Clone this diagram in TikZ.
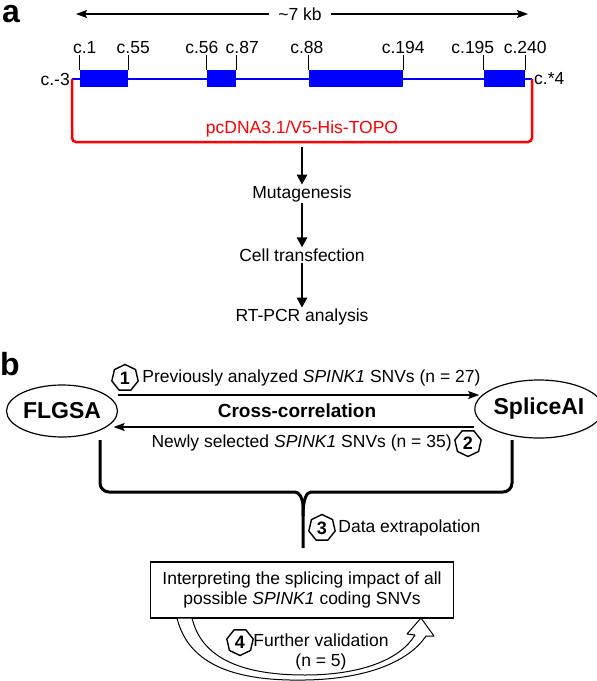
\documentclass[tikz,border=0pt]{standalone}
\usepackage{fontspec}
\setmainfont{Liberation Sans}
\usetikzlibrary{shapes.geometric, arrows.meta, positioning, calc}
\definecolor{exonblue}{HTML}{0000FF}
\definecolor{vecred}{HTML}{FF0000}

\begin{document}
\begin{tikzpicture}[x=1pt, y=-1pt,
    exon/.style={rectangle, fill=exonblue, inner sep=0pt, minimum height=17pt, minimum width=#1},
    cpos/.style={font=\fontsize{17.5}{20}\selectfont, inner sep=1pt, anchor=south},
    txt/.style={font=\fontsize{17.5}{20}\selectfont, inner sep=1pt},
    panel/.style={font=\fontsize{32}{32}\selectfont\bfseries, inner sep=0pt, anchor=base west},
    flowarrow/.style={line width=2.6pt, -{Triangle[length=10pt, width=10pt]}},
    thinarrow/.style={line width=1.5pt, -{Stealth[length=11pt, width=8pt, inset=2pt]}},
    tool/.style={ellipse, draw, line width=1.2pt, font=\fontsize{23}{26}\selectfont\bfseries, inner sep=0pt},
    stepmark/.style={regular polygon, regular polygon sides=7, draw, line width=1.4pt, inner sep=0pt, minimum size=27pt, font=\fontsize{18}{20}\selectfont\bfseries},
    brace/.style={line width=3pt, line join=round},
]
\useasboundingbox (0,0) rectangle (597,681);

% ---- panel a ----
\node[panel] (lbla) at (2,22) {a};
\node[txt, inner xsep=9pt] (kb) at (300,14) {\textasciitilde7 kb};
\coordinate (kbl) at (76,14);
\coordinate (kbr) at (528,14);
\draw[thinarrow] (kb.west) -- (kbl);
\draw[thinarrow] (kb.east) -- (kbr);

% gene with exons
\coordinate (gs) at (72,79);
\coordinate (ge) at (532,79);
\draw[exonblue, line width=1.3pt] (gs) -- (ge);
\node[exon=48pt] (ex1) at (104,78.5) {};
\node[exon=29pt] (ex2) at (221.5,78.5) {};
\node[exon=94pt] (ex3) at (356,78.5) {};
\node[exon=41pt] (ex4) at (504.5,78.5) {};
\foreach \ex/\lft/\ls/\rgt/\rs in {ex1/c.1/5/c.55/5, ex2/c.56/-5/c.87/6, ex3/c.88/-2/c.194/0, ex4/c.195/-11/c.240/0} {
    \draw[line width=1.2pt] (\ex.north west) -- ++(0,-15) node[cpos, xshift=\ls pt] {\lft};
    \draw[line width=1.2pt] (\ex.north east) -- ++(0,-15) node[cpos, xshift=\rs pt] {\rgt};
}
\node[txt, anchor=east, inner sep=2pt] (c3) at (gs) {c.-3};
\node[txt, anchor=west, inner sep=2pt] (c4) at (ge) {c.*4};

% vector
\draw[vecred, line width=2.5pt, rounded corners=4pt] (gs) -- (72,142) -- (532,142) -- (ge);
\node[txt, text=vecred] (vec) at (302,129) {pcDNA3.1/V5-His-TOPO};
\coordinate (vb) at (302,147);

% workflow
\node[txt] (mut) at (302,194) {Mutagenesis};
\node[txt] (cell) at (302,255) {Cell transfection};
\node[txt] (rt) at (302,317) {RT-PCR analysis};
\draw[flowarrow] (vb) -- (mut);
\draw[flowarrow] (mut) -- (cell);
\draw[flowarrow] (cell) -- (rt);

% ---- panel b ----
\node[panel] (lblb) at (0,375) {b};
\node[tool, minimum width=111pt, minimum height=52pt] (flgsa) at (62,411) {FLGSA};
\node[tool, minimum width=113pt, minimum height=58pt] (splice) at (539,409) {SpliceAI};
\draw[thinarrow] ([yshift=16pt]flgsa.east) -- ([shift={(5pt,14pt)}]splice.west);
\draw[thinarrow] ([yshift=-18pt]splice.west) -- ([shift={(-4.5pt,-16pt)}]flgsa.east);
\node[font=\fontsize{19}{22}\selectfont\bfseries] (cross) at (297,411) {Cross-correlation};

\node[stepmark] (s1) at (125,378) {1};
\node[txt, right=3pt of s1] (t1) {Previously analyzed \textit{SPINK1} SNVs (n = 27)};
\node[stepmark, shape border rotate=180] (s2) at (468,443) {2};
\node[txt, left=2pt of s2] (t2) {Newly selected \textit{SPINK1} SNVs (n = 35)};

% brace joining both tools
\coordinate (bl) at (100,440);
\coordinate (br) at (512,440);
\coordinate (bt) at (303,548);
\draw[brace, rounded corners=9pt] (bl) -- (100,492) -- (286,492) .. controls (299,492) and (303,498) .. (303,516) -- (bt);
\draw[brace, rounded corners=9pt] (br) -- (512,492) -- (320,492) .. controls (307,492) and (303,498) .. (303,516);

\node[stepmark] (s3) at (322,528) {3};
\node[txt, right=2pt of s3] (t3) {Data extrapolation};

\node[txt, draw, line width=1.2pt, align=center, minimum width=303pt, minimum height=56pt] (box) at (302,590)
    {Interpreting the splicing impact of all\\possible \textit{SPINK1} coding SNVs};

% hollow return arrow
\draw[line width=1pt, fill=white, line join=round]
    (177,618) .. controls (190,672) and (250,681) .. (305,680)
    .. controls (370,679) and (410,660) .. (426,636) -- (434,636) -- (421,618) -- (407,634) -- (415,635)
    .. controls (400,660) and (360,675) .. (305,675)
    .. controls (245,675) and (202,660) .. (192,618) -- cycle;
\node[stepmark, shape border rotate=180] (s4) at (240,642) {4};
\node[txt, align=center] (t4) at (321,652) {Further validation\\(n = 5)};
\end{tikzpicture}
\end{document}
